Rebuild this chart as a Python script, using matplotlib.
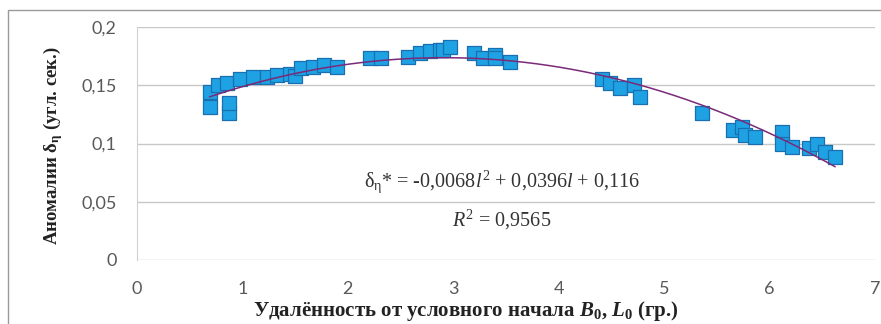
import numpy as np
import matplotlib
matplotlib.use("Agg")
import matplotlib.pyplot as plt
from matplotlib.patches import Rectangle

plt.rcParams["mathtext.fontset"] = "custom"
plt.rcParams["mathtext.rm"] = "Liberation Serif"
plt.rcParams["mathtext.it"] = "Liberation Serif:italic"
plt.rcParams["mathtext.bf"] = "Liberation Serif:bold"
plt.rcParams["mathtext.bfit"] = "Liberation Serif:bold:italic"

# Measured anomalies versus distance from the conventional origin
dist = [0.69, 0.69, 0.77, 0.85, 0.87, 0.87, 0.98, 1.10, 1.23, 1.33, 1.45, 1.50,
        1.56, 1.67, 1.77, 1.90, 2.21, 2.31, 2.57, 2.68, 2.78, 2.87, 2.90, 2.97,
        3.20, 3.28, 3.40, 3.40, 3.54, 4.41, 4.49, 4.58, 4.71, 4.77, 5.36, 5.65,
        5.74, 5.77, 5.86, 6.12, 6.12, 6.21, 6.37, 6.45, 6.53, 6.62]
anom = [0.131, 0.144, 0.150, 0.152, 0.126, 0.135, 0.155, 0.157, 0.157, 0.159,
        0.160, 0.158, 0.165, 0.166, 0.167, 0.166, 0.173, 0.173, 0.174, 0.178,
        0.179, 0.180, 0.180, 0.183, 0.178, 0.173, 0.176, 0.173, 0.170, 0.155,
        0.152, 0.148, 0.150, 0.140, 0.126, 0.112, 0.114, 0.107, 0.106, 0.110,
        0.100, 0.097, 0.096, 0.100, 0.093, 0.088]

# Quadratic trend coefficients (a*l^2 + b*l + c)
trend_coef = [-0.0068, 0.0396, 0.116]

x_ticks = [0, 1, 2, 3, 4, 5, 6, 7]
y_ticks = [0, 0.05, 0.1, 0.15, 0.2]
y_tick_labels = ["0", "0,05", "0,1", "0,15", "0,2"]

fig = plt.figure(figsize=(8.81, 3.24), dpi=100)
fig.patch.set_facecolor("white")

# Chart-area frame
fig.patches.append(Rectangle((8 / 881, -0.05), 0.999, (324 - 10) / 324 + 0.05,
                             transform=fig.transFigure, fill=False,
                             edgecolor="#9a9a9a", linewidth=1.0))

ax = fig.add_axes([137 / 881, (324 - 260) / 324, (875 - 137) / 881, (260 - 27) / 324])
ax.set_xlim(0, 7)
ax.set_ylim(0, 0.2)

ax.set_yticks(y_ticks)
ax.set_yticklabels(y_tick_labels)
ax.set_xticks(x_ticks)
ax.set_xticklabels([str(t) for t in x_ticks])
ax.tick_params(length=0, labelsize=13, labelcolor="#595959")
ax.tick_params(axis="y", pad=14.5)
ax.tick_params(axis="x", pad=15)
for lbl in ax.get_xticklabels() + ax.get_yticklabels():
    lbl.set_fontfamily("Lato")

ax.grid(axis="y", color="#c8c8c8", linewidth=1.0)
ax.set_axisbelow(True)
for side in ["top", "right", "bottom"]:
    ax.spines[side].set_visible(False)
ax.spines["left"].set_color("#d0d0d0")

ax.scatter(dist, anom, marker="s", s=88, facecolor="#1fa2e3",
           edgecolor="#1a6fb0", linewidth=0.9, zorder=3)

xl = np.linspace(min(dist), max(dist), 200)
ax.plot(xl, np.polyval(trend_coef, xl), color="#7a2a78", linewidth=1.1, zorder=4)

ax.text(3.46, 0.067,
        r"$\mathregular{\delta_\eta}$* = -0,0068$\mathit{l}^{2}$ + 0,0396$\mathit{l}$ + 0,116",
        ha="center", va="center", fontsize=14.5, family="Liberation Serif", color="#333333")
ax.text(3.46, 0.034, r"$\mathit{R}^{2}$ = 0,9565", ha="center", va="center",
        fontsize=14.5, family="Liberation Serif", color="#333333")

fig.text(53 / 881, 1 - 146 / 324, r"Аномалии $\mathbf{\delta_\eta}$ (угл. сек.)",
         rotation=90, ha="center", va="center", fontsize=13.5,
         family="Liberation Serif", weight="bold", color="#222222")
fig.text(466 / 881, 1 - 311 / 324,
         r"Удалённость от условного начала $\mathbfit{B}_\mathbf{0}$, $\mathbfit{L}_\mathbf{0}$ (гр.)",
         ha="center", va="center", fontsize=15,
         family="Liberation Serif", weight="bold", color="#222222")

fig.savefig("out.png", dpi=100, facecolor="white")
